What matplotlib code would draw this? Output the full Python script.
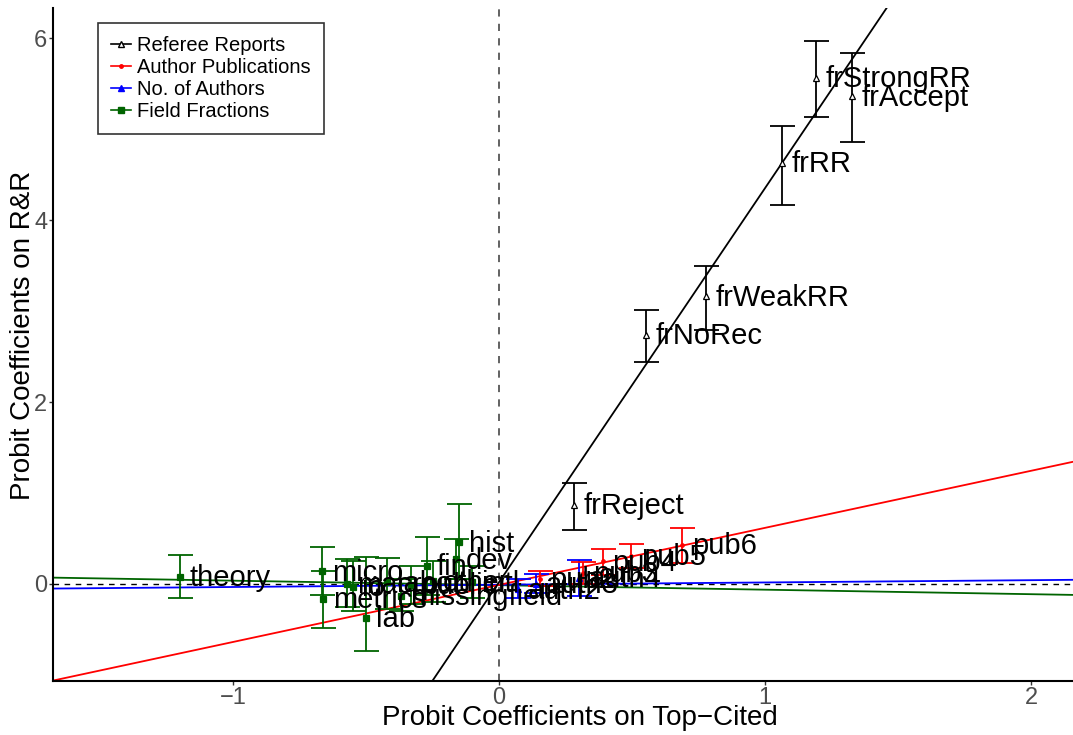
import numpy as np
import matplotlib.pyplot as plt
from matplotlib.lines import Line2D

plt.rcParams['font.family'] = ['Liberation Sans', 'DejaVu Sans']

# referee reports
ref_names = ['frStrongRR', 'frAccept', 'frRR', 'frWeakRR', 'frNoRec', 'frReject']
ref_x = [1.19, 1.327, 1.064, 0.778, 0.553, 0.282]
ref_y = [5.56, 5.36, 4.63, 3.16, 2.74, 0.87]
ref_lo = [5.13, 4.86, 4.16, 2.79, 2.44, 0.59]
ref_hi = [5.97, 5.84, 5.03, 3.49, 3.01, 1.11]

# author publications
pub_names = ['pub2', 'pub3', 'pub4', 'pub5', 'pub6']
pub_x = [0.154, 0.316, 0.39, 0.496, 0.688]
pub_y = [0.06, 0.12, 0.25, 0.31, 0.43]
pub_lo = [-0.02, 0.0, 0.10, 0.18, 0.23]
pub_hi = [0.14, 0.24, 0.39, 0.44, 0.62]

# number of authors
auth_names = ['auth2', 'auth3', 'auth4']
auth_x = [0.07, 0.14, 0.30]
auth_y = [-0.06, 0.0, 0.07]
auth_lo = [-0.15, -0.10, -0.13]
auth_hi = [0.05, 0.11, 0.26]

# field fractions
fld_names = ['theory', 'micro', 'metrics', 'macro', 'io', 'lab', 'labor',
             'public', 'missingfield', 'other', 'fin', 'dev', 'hist', 'intl']
fld_x = [-1.20, -0.665, -0.66, -0.57, -0.55, -0.50, -0.42,
         -0.33, -0.37, -0.25, -0.27, -0.16, -0.15, -0.10]
fld_y = [0.08, 0.14, -0.165, 0.0, -0.03, -0.37, 0.02,
         -0.01, -0.13, 0.03, 0.20, 0.27, 0.46, 0.02]
fld_lo = [-0.15, -0.12, -0.48, -0.25, -0.30, -0.74, -0.27,
          -0.22, -0.30, -0.20, -0.12, 0.05, 0.05, -0.15]
fld_hi = [0.32, 0.41, 0.14, 0.28, 0.25, 0.30, 0.29,
          0.20, 0.05, 0.25, 0.52, 0.49, 0.88, 0.20]

# fitted lines (slope, intercept)
fit_slope = {'ref': 4.33, 'pub': 0.627, 'auth': 0.025, 'fld': -0.0495}
fit_icept = {'ref': 0.02, 'pub': -0.01, 'auth': -0.008, 'fld': -0.013}


def plot_group(ax, names, x, y, lo, hi, color, marker, mfc, ms):
    """ Points with error bars and labels """
    x = np.array(x)
    y = np.array(y)
    err = np.vstack([y - np.array(lo), np.array(hi) - y])
    ax.errorbar(x, y, yerr=err, fmt='none', ecolor=color, elinewidth=1.3,
                capsize=9, capthick=1.3, zorder=3)
    ax.plot(x, y, ls='none', marker=marker, color=color, mfc=mfc,
            mec=color, ms=ms, mew=0.9, zorder=4)
    for n, xi, yi in zip(names, x, y):
        ax.annotate(n, (xi, yi), xytext=(7, -1), textcoords='offset points',
                    ha='left', va='center', fontsize=21, color='black', zorder=5)


fig = plt.figure(figsize=(10.73, 7.35), dpi=100)
ax = fig.add_axes([53 / 1073, 54 / 735, 1 - 53 / 1073, 673 / 735])

ax.set_xlim(-1.677, 2.158)
ax.set_ylim(-1.066, 6.33)

ax.axhline(0, color='black', ls=(0, (4, 4)), lw=1.0, zorder=1)
ax.axvline(0, color='#555555', ls=(0, (4, 4)), lw=1.3, zorder=1)

cols = {'ref': 'black', 'pub': 'red', 'auth': 'blue', 'fld': '#006400'}
for k in ['fld', 'auth', 'pub', 'ref']:
    ax.axline((0, fit_icept[k]), slope=fit_slope[k], color=cols[k], lw=1.3, zorder=2)

plot_group(ax, fld_names, fld_x, fld_y, fld_lo, fld_hi, cols['fld'], 's', cols['fld'], 5)
plot_group(ax, auth_names, auth_x, auth_y, auth_lo, auth_hi, cols['auth'], '^', cols['auth'], 4)
plot_group(ax, pub_names, pub_x, pub_y, pub_lo, pub_hi, cols['pub'], 'o', cols['pub'], 2.5)
plot_group(ax, ref_names, ref_x, ref_y, ref_lo, ref_hi, cols['ref'], '^', 'white', 5)

ax.set_xticks([-1, 0, 1, 2])
ax.set_yticks([0, 2, 4, 6])
ax.tick_params(labelsize=17, labelcolor='#4d4d4d', color='#333333', length=3,
               width=1, pad=1)
for s in ['top', 'right']:
    ax.spines[s].set_visible(False)
for s in ['left', 'bottom']:
    ax.spines[s].set_linewidth(1.5)
ax.set_xlabel('Probit Coefficients on Top\u2212Cited', fontsize=20)
ax.set_ylabel('Probit Coefficients on R&R', fontsize=20)
ax.xaxis.set_label_coords((580 - 53) / 1020, -0.055)
ax.yaxis.set_label_coords(-0.029, (681 - 335) / 673)
ax.xaxis.label.set_va('center')
ax.yaxis.label.set_va('center')

handles = [
    Line2D([], [], color='black', marker='^', mfc='white', ms=5, lw=1.2),
    Line2D([], [], color='red', marker='o', ms=2.5, lw=1.2),
    Line2D([], [], color='blue', marker='^', ms=4, lw=1.2),
    Line2D([], [], color=cols['fld'], marker='s', ms=5, lw=1.2),
]
labels = ['Referee Reports', 'Author Publications', 'No. of Authors', 'Field Fractions']
leg = ax.legend(handles, labels, loc='upper left', bbox_to_anchor=(0.044, 0.978),
                fontsize=14.5, frameon=True, fancybox=False, handlelength=1.0,
                handletextpad=0.3, labelspacing=0.15, borderpad=0.65, borderaxespad=0)
leg.get_frame().set_edgecolor('black')
leg.get_frame().set_linewidth(1.2)

fig.savefig('out.png', dpi=100)
